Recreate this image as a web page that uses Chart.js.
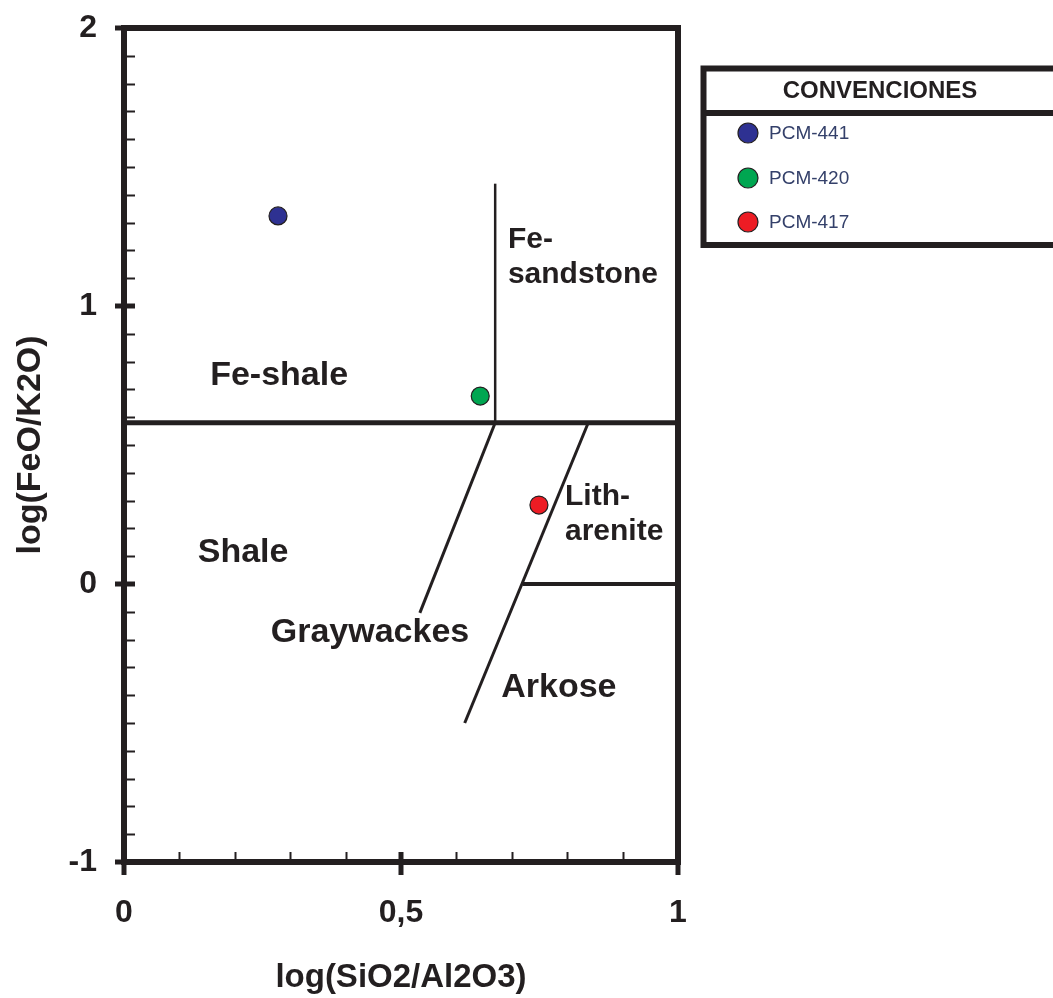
<!DOCTYPE html>
<html>
<head>
<meta charset="utf-8">
<script src="https://cdn.jsdelivr.net/npm/chart.js@4.4.1/dist/chart.umd.min.js"></script>
<style>
  html, body { margin: 0; padding: 0; background: #ffffff; }
  #wrap { width: 1053px; height: 998px; }
</style>
</head>
<body>
<div id="wrap"><canvas id="c" width="1053" height="998"></canvas></div>
<script>
// Samples: log(SiO2/Al2O3) vs log(FeO/K2O)
const sampleNames  = ['PCM-441', 'PCM-420', 'PCM-417'];
const sampleSiAl   = [0.278, 0.643, 0.749];
const sampleFeK    = [1.324, 0.676, 0.284];
const sampleColors = ['#2e3192', '#00a651', '#ed1c24'];

// Field boundaries of the classification diagram
const lineFeSplit     = [{ x: 0, y: 0.58 }, { x: 1, y: 0.58 }];
const lineFeSandstone = [{ x: 0.67, y: 0.58 }, { x: 0.67, y: 1.44 }];
const lineGraywacke   = [{ x: 0.67, y: 0.58 }, { x: 0.534, y: -0.104 }];
const lineLitharenite = [{ x: 0.838, y: 0.58 }, { x: 0.615, y: -0.5 }];
const lineArkose      = [{ x: 0.72, y: 0 }, { x: 1, y: 0 }];

// Axis ticks
const xTickValues = [0, 0.5, 1];
const xTickLabels = ['0', '0,5', '1'];
const yTickValues = [-1, 0, 1, 2];
const yTickLabels = ['-1', '0', '1', '2'];
const minorStep = 0.1;

// Field names
const fieldNames = ['Fe-shale', 'Shale', 'Graywackes', 'Arkose', ['Fe-', 'sandstone'], ['Lith-', 'arenite']];
const fieldAnchors = [
  { x: 0.280, y: 0.716, align: 'center', size: 34 },
  { x: 0.215, y: 0.079, align: 'center', size: 34 },
  { x: 0.444, y: -0.209, align: 'center', size: 34 },
  { x: 0.785, y: -0.406, align: 'center', size: 34 },
  { x: 0.693, y: 1.209, align: 'left', size: 30 },
  { x: 0.796, y: 0.284, align: 'left', size: 30 }
];

const INK = '#231f20';
const FONT = "'Liberation Sans', Arial, Helvetica, sans-serif";
Chart.defaults.font.family = FONT;
Chart.defaults.color = INK;

function boundary(data, width) {
  return {
    type: 'line', data: data, showLine: true, borderColor: INK, borderWidth: width,
    pointRadius: 0, pointHoverRadius: 0, fill: false, tension: 0, borderCapStyle: 'butt'
  };
}

const sampleSets = sampleNames.map((name, i) => ({
  type: 'scatter', label: name,
  data: [{ x: sampleSiAl[i], y: sampleFeK[i] }],
  backgroundColor: sampleColors[i], borderColor: INK, borderWidth: 1.2,
  pointRadius: 9, pointHoverRadius: 9
}));

const whiteBg = {
  id: 'whiteBg',
  beforeDraw(chart) {
    const ctx = chart.ctx;
    ctx.save();
    ctx.fillStyle = '#ffffff';
    ctx.fillRect(0, 0, chart.width, chart.height);
    ctx.restore();
  }
};

const frameAndTicks = {
  id: 'frameAndTicks',
  afterDraw(chart) {
    const ctx = chart.ctx, xs = chart.scales.x, ys = chart.scales.y;
    const a = chart.chartArea;
    ctx.save();
    ctx.strokeStyle = INK;
    ctx.lineCap = 'butt';
    // minor ticks, inward
    ctx.lineWidth = 2;
    for (let v = ys.min; v <= ys.max + 1e-9; v += minorStep) {
      const p = Math.round(ys.getPixelForValue(v)) + 0.5;
      ctx.beginPath(); ctx.moveTo(a.left, p); ctx.lineTo(a.left + 11, p); ctx.stroke();
    }
    for (let v = xs.min; v <= xs.max + 1e-9; v += minorStep) {
      const p = Math.round(xs.getPixelForValue(v)) + 0.5;
      ctx.beginPath(); ctx.moveTo(p, a.bottom); ctx.lineTo(p, a.bottom - 10); ctx.stroke();
    }
    // major ticks, crossing the axis
    ctx.lineWidth = 5;
    yTickValues.forEach(v => {
      const p = ys.getPixelForValue(v);
      ctx.beginPath(); ctx.moveTo(a.left - 9, p); ctx.lineTo(a.left + 11, p); ctx.stroke();
    });
    xTickValues.forEach(v => {
      const p = xs.getPixelForValue(v);
      ctx.beginPath(); ctx.moveTo(p, a.bottom + 13); ctx.lineTo(p, a.bottom - 10); ctx.stroke();
    });
    // frame
    ctx.lineWidth = 6;
    ctx.strokeRect(a.left, a.top, a.right - a.left, a.bottom - a.top);
    ctx.restore();
  }
};

const fieldLabels = {
  id: 'fieldLabels',
  afterDatasetsDraw(chart) {
    const ctx = chart.ctx, xs = chart.scales.x, ys = chart.scales.y;
    ctx.save();
    ctx.fillStyle = INK;
    ctx.textBaseline = 'alphabetic';
    fieldNames.forEach((name, i) => {
      const an = fieldAnchors[i];
      ctx.font = 'bold ' + an.size + 'px ' + FONT;
      ctx.textAlign = an.align;
      const px = xs.getPixelForValue(an.x);
      const py = ys.getPixelForValue(an.y);
      const lines = Array.isArray(name) ? name : [name];
      lines.forEach((t, k) => ctx.fillText(t, px, py + k * 35));
    });
    ctx.restore();
  }
};

const legendBox = {
  id: 'legendBox',
  afterDraw(chart) {
    const ctx = chart.ctx;
    ctx.save();
    ctx.strokeStyle = INK;
    ctx.lineWidth = 6;
    ctx.strokeRect(703.5, 68.5, 380, 176.5);
    ctx.beginPath(); ctx.moveTo(703, 113); ctx.lineTo(1060, 113); ctx.stroke();
    ctx.fillStyle = INK;
    ctx.font = 'bold 24px ' + FONT;
    ctx.textAlign = 'center';
    ctx.textBaseline = 'alphabetic';
    ctx.fillText('CONVENCIONES', 880, 98);
    const rows = [133, 178, 222];
    chart.data.datasets.forEach((ds, i) => {
      if (ds.type !== 'scatter') return;
      const y = rows[i];
      ctx.beginPath();
      ctx.arc(748, y, 10, 0, Math.PI * 2);
      ctx.fillStyle = ds.backgroundColor;
      ctx.fill();
      ctx.lineWidth = 1.2;
      ctx.strokeStyle = INK;
      ctx.stroke();
      ctx.fillStyle = '#34406a';
      ctx.font = '19px ' + FONT;
      ctx.textAlign = 'left';
      ctx.textBaseline = 'middle';
      ctx.fillText(ds.label, 769, y + 1);
    });
    ctx.restore();
  }
};

new Chart(document.getElementById('c'), {
  type: 'scatter',
  data: {
    datasets: [
      ...sampleSets,
      boundary(lineFeSplit, 5),
      boundary(lineFeSandstone, 2.5),
      boundary(lineGraywacke, 3),
      boundary(lineLitharenite, 3),
      boundary(lineArkose, 4)
    ]
  },
  options: {
    responsive: false,
    animation: false,
    devicePixelRatio: 1,
    layout: { padding: { left: 0, top: 28, right: 375, bottom: 0 } },
    plugins: { legend: { display: false }, tooltip: { enabled: false } },
    scales: {
      x: {
        type: 'linear', min: 0, max: 1,
        afterFit(scale) { scale.height = 136; scale.paddingLeft = 0; scale.paddingRight = 0; },
        afterBuildTicks(scale) { scale.ticks = xTickValues.map(v => ({ value: v })); },
        grid: { display: false, drawTicks: false },
        border: { display: false },
        ticks: {
          autoSkip: false, maxRotation: 0, padding: 32,
          color: INK, font: { size: 32, weight: 'bold' },
          callback: (v) => { const i = xTickValues.indexOf(v); return i >= 0 ? xTickLabels[i] : null; }
        },
        title: {
          display: true, text: 'log(SiO2/Al2O3)', color: INK,
          font: { size: 33, weight: 'bold' }, padding: { top: 0, bottom: 0 }
        }
      },
      y: {
        type: 'linear', min: -1, max: 2,
        afterFit(scale) { scale.width = 124; scale.paddingTop = 0; scale.paddingBottom = 0; },
        afterBuildTicks(scale) { scale.ticks = yTickValues.map(v => ({ value: v })); },
        grid: { display: false, drawTicks: false },
        border: { display: false },
        ticks: {
          autoSkip: false, padding: 27,
          color: INK, font: { size: 32, weight: 'bold' },
          callback: (v) => { const i = yTickValues.indexOf(v); return i >= 0 ? yTickLabels[i] : null; }
        },
        title: {
          display: true, text: 'log(FeO/K2O)', color: INK,
          font: { size: 34, weight: 'bold' }, padding: { top: 10, bottom: 0 }
        }
      }
    }
  },
  plugins: [whiteBg, fieldLabels, frameAndTicks, legendBox]
});
</script>
</body>
</html>
